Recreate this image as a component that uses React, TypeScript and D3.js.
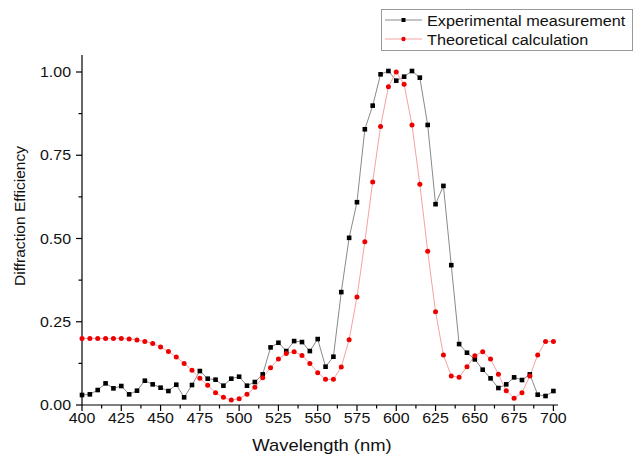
import React from "react";
import * as d3 from "d3";

const wavelengths: number[] = d3.range(400, 701, 5);

const experimental: number[] = [
  0.030, 0.032, 0.045, 0.065, 0.050, 0.057, 0.032, 0.043, 0.073, 0.062,
  0.052, 0.042, 0.061, 0.023, 0.060, 0.102, 0.079, 0.076, 0.058, 0.079,
  0.085, 0.058, 0.069, 0.092, 0.173, 0.187, 0.162, 0.192, 0.189, 0.162,
  0.198, 0.115, 0.145, 0.339, 0.502, 0.609, 0.828, 0.899, 0.993, 1.003,
  0.974, 0.986, 1.003, 0.983, 0.841, 0.603, 0.658, 0.420, 0.183, 0.157,
  0.137, 0.106, 0.080, 0.051, 0.062, 0.083, 0.075, 0.092, 0.031, 0.027,
  0.042,
];

const theoretical: number[] = [
  0.200, 0.200, 0.200, 0.200, 0.200, 0.200, 0.198, 0.195, 0.191, 0.185,
  0.174, 0.161, 0.144, 0.125, 0.104, 0.080, 0.059, 0.037, 0.023, 0.015,
  0.019, 0.032, 0.053, 0.082, 0.112, 0.138, 0.155, 0.160, 0.149, 0.125,
  0.097, 0.077, 0.077, 0.114, 0.196, 0.324, 0.490, 0.670, 0.836, 0.956,
  1.000, 0.963, 0.841, 0.663, 0.462, 0.280, 0.150, 0.087, 0.083, 0.115,
  0.148, 0.160, 0.138, 0.092, 0.043, 0.020, 0.037, 0.087, 0.150, 0.191,
  0.191,
];

const xTicks: number[] = [400, 425, 450, 475, 500, 525, 550, 575, 600, 625, 650, 675, 700];
const yTicks: number[] = [0, 0.25, 0.5, 0.75, 1.0];
const seriesNames: string[] = ["Experimental measurement", "Theoretical calculation"];

const W = 642;
const H = 456;
const FONT = "'Liberation Sans', Arial, sans-serif";

export default function App() {
  const x = d3.scaleLinear().domain([400, 700]).range([82, 553.4]);
  const y = d3.scaleLinear().domain([0, 1]).range([405, 72]);
  const axisRight = 558;
  const axisTop = 55;

  const expPts = wavelengths.map((w, i) => [w, experimental[i]] as [number, number]);
  const thPts = wavelengths.map((w, i) => [w, theoretical[i]] as [number, number]);
  const line = d3
    .line<[number, number]>()
    .x((d) => x(d[0]))
    .y((d) => y(d[1]));

  const xMinor = d3.range(412.5, 700, 25);
  const yMinor = [0.125, 0.375, 0.625, 0.875];

  const sx = 1.1;

  return (
    <svg
      width={W}
      height={H}
      style={{ position: "absolute", left: 0, top: 0, background: "#fff" }}
      fontFamily={FONT}
    >
      <rect x={0} y={0} width={W} height={H} fill="#fff" />
      {/* axes */}
      <line x1={82} y1={405} x2={axisRight} y2={405} stroke="#000" strokeWidth={1.2} />
      <line x1={82} y1={405} x2={82} y2={axisTop} stroke="#000" strokeWidth={1.2} />
      {xTicks.map((t) => (
        <line key={"xt" + t} x1={x(t)} x2={x(t)} y1={405} y2={411} stroke="#000" strokeWidth={1.2} />
      ))}
      {xMinor.map((t) => (
        <line key={"xm" + t} x1={x(t)} x2={x(t)} y1={405} y2={408.5} stroke="#000" strokeWidth={1.2} />
      ))}
      {yTicks.map((t) => (
        <line key={"yt" + t} x1={76} x2={82} y1={y(t)} y2={y(t)} stroke="#000" strokeWidth={1.2} />
      ))}
      {yMinor.map((t) => (
        <line key={"ym" + t} x1={78.5} x2={82} y1={y(t)} y2={y(t)} stroke="#000" strokeWidth={1.2} />
      ))}
      {xTicks.map((t) => (
        <text
          key={"xl" + t}
          transform={`translate(${x(t)},${423}) scale(${sx},1)`}
          textAnchor="middle"
          fontSize={14.5}
          fill="#111"
        >
          {String(t)}
        </text>
      ))}
      {yTicks.map((t) => (
        <text
          key={"yl" + t}
          transform={`translate(${71},${y(t) + 5}) scale(${sx},1)`}
          textAnchor="end"
          fontSize={14.5}
          fill="#111"
        >
          {t.toFixed(2)}
        </text>
      ))}
      <text
        transform={`translate(${322},${451}) scale(1.15,1)`}
        textAnchor="middle"
        fontSize={16}
        fill="#111"
      >
        Wavelength (nm)
      </text>
      <text
        transform={`translate(${25},${216}) rotate(-90)`}
        textAnchor="middle"
        fontSize={15.5}
        fill="#111"
      >
        Diffraction Efficiency
      </text>

      {/* series */}
      <path d={line(expPts) || ""} fill="none" stroke="#8a8a8a" strokeWidth={1} />
      <path d={line(thPts) || ""} fill="none" stroke="#f4a3a3" strokeWidth={1} />
      {expPts.map((d, i) => (
        <rect key={"e" + i} x={x(d[0]) - 2.3} y={y(d[1]) - 2.3} width={4.6} height={4.6} fill="#000" />
      ))}
      {thPts.map((d, i) => (
        <circle key={"t" + i} cx={x(d[0])} cy={y(d[1])} r={2.5} fill="#ee0000" />
      ))}

      {/* legend */}
      <rect x={381.5} y={9.5} width={251} height={41} fill="#fff" stroke="#999" strokeWidth={1} />
      <line x1={385} x2={422} y1={20} y2={20} stroke="#8a8a8a" strokeWidth={1} />
      <rect x={403.5 - 2} y={18} width={4} height={4} fill="#000" />
      <text transform={`translate(427,25.5) scale(1.12,1)`} fontSize={14.5} fill="#111">
        {seriesNames[0]}
      </text>
      <line x1={385} x2={422} y1={39} y2={39} stroke="#f4a3a3" strokeWidth={1} />
      <circle cx={403.5} cy={39} r={2.2} fill="#ee0000" />
      <text transform={`translate(427,44.5) scale(1.12,1)`} fontSize={14.5} fill="#111">
        {seriesNames[1]}
      </text>
    </svg>
  );
}
